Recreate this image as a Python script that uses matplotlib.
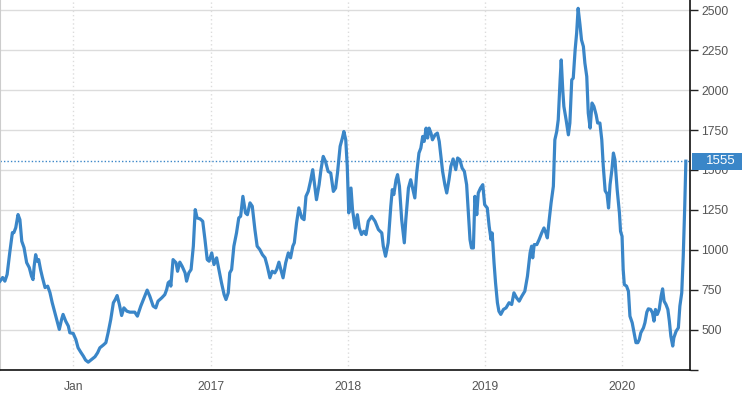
import matplotlib
matplotlib.use("Agg")
import matplotlib.pyplot as plt
import matplotlib.transforms as mtransforms
from matplotlib.patches import Rectangle
import pandas as pd

plt.rcParams['font.family'] = ['Liberation Sans', 'DejaVu Sans']

dates = [
    "2015-06-20", "2015-06-27", "2015-07-03", "2015-07-09", "2015-07-16", "2015-07-23", "2015-07-27",
    "2015-08-01", "2015-08-07", "2015-08-12", "2015-08-17", "2015-08-23", "2015-08-30", "2015-09-06",
    "2015-09-12", "2015-09-16", "2015-09-19", "2015-09-23", "2015-09-27", "2015-10-01", "2015-10-06",
    "2015-10-11", "2015-10-18", "2015-10-25", "2015-10-31", "2015-11-06", "2015-11-13", "2015-11-19",
    "2015-11-25", "2015-12-01", "2015-12-05", "2015-12-12", "2015-12-19", "2015-12-23",
    "2016-01-01", "2016-01-08", "2016-01-14", "2016-01-21", "2016-01-28", "2016-02-03", "2016-02-10",
    "2016-02-19", "2016-02-28", "2016-03-06", "2016-03-12", "2016-03-21", "2016-03-28", "2016-04-03",
    "2016-04-10", "2016-04-17", "2016-04-22", "2016-04-27", "2016-05-03", "2016-05-09", "2016-05-15",
    "2016-05-23", "2016-05-31", "2016-06-13", "2016-06-20", "2016-06-29", "2016-07-06", "2016-07-16",
    "2016-07-23", "2016-08-01", "2016-08-08", "2016-08-14", "2016-08-24", "2016-09-01", "2016-09-06",
    "2016-09-10", "2016-09-15", "2016-09-17", "2016-09-23", "2016-10-01", "2016-10-05", "2016-10-11",
    "2016-10-17", "2016-10-25", "2016-10-29", "2016-11-04", "2016-11-10", "2016-11-16", "2016-11-21",
    "2016-11-26", "2016-12-04", "2016-12-11", "2016-12-17", "2016-12-23", "2016-12-28",
    "2017-01-04", "2017-01-10", "2017-01-17", "2017-01-24", "2017-01-30", "2017-02-06", "2017-02-11",
    "2017-02-17", "2017-02-21", "2017-02-26", "2017-03-04", "2017-03-11", "2017-03-17", "2017-03-22",
    "2017-03-28", "2017-04-04", "2017-04-09", "2017-04-16", "2017-04-22", "2017-04-29", "2017-05-05",
    "2017-05-12", "2017-05-19", "2017-05-26", "2017-06-01", "2017-06-08", "2017-06-14", "2017-06-21",
    "2017-06-26", "2017-07-02", "2017-07-07", "2017-07-13", "2017-07-20", "2017-07-27", "2017-08-02",
    "2017-08-08", "2017-08-12", "2017-08-18", "2017-08-24", "2017-09-01", "2017-09-07", "2017-09-12",
    "2017-09-18", "2017-09-24", "2017-09-30", "2017-10-06", "2017-10-10", "2017-10-17", "2017-10-22",
    "2017-10-28", "2017-11-03", "2017-11-10", "2017-11-17", "2017-11-24", "2017-11-30", "2017-12-05",
    "2017-12-12", "2017-12-18", "2017-12-22", "2017-12-27", "2017-12-31",
    "2018-01-04", "2018-01-10", "2018-01-14", "2018-01-21", "2018-01-27", "2018-02-01", "2018-02-07",
    "2018-02-13", "2018-02-19", "2018-02-25", "2018-03-06", "2018-03-15", "2018-03-24", "2018-04-02",
    "2018-04-06", "2018-04-12", "2018-04-19", "2018-04-26", "2018-04-30", "2018-05-04", "2018-05-10",
    "2018-05-14", "2018-05-19", "2018-05-25", "2018-06-01", "2018-06-05", "2018-06-12", "2018-06-18",
    "2018-06-23", "2018-06-29", "2018-07-04", "2018-07-10", "2018-07-15", "2018-07-20", "2018-07-24",
    "2018-07-29", "2018-08-02", "2018-08-06", "2018-08-11", "2018-08-15", "2018-08-22", "2018-08-28",
    "2018-09-02", "2018-09-07", "2018-09-11", "2018-09-17", "2018-09-22", "2018-09-28", "2018-10-03",
    "2018-10-09", "2018-10-16", "2018-10-21", "2018-10-27", "2018-11-02", "2018-11-08", "2018-11-14",
    "2018-11-18", "2018-11-23", "2018-11-27", "2018-12-02", "2018-12-06", "2018-12-11", "2018-12-15",
    "2018-12-21", "2018-12-27",
    "2019-01-01", "2019-01-08", "2019-01-13", "2019-01-18", "2019-01-21", "2019-01-26", "2019-01-30",
    "2019-02-04", "2019-02-08", "2019-02-13", "2019-02-20", "2019-02-27", "2019-03-07", "2019-03-14",
    "2019-03-20", "2019-03-27", "2019-04-03", "2019-04-10", "2019-04-18", "2019-04-25", "2019-05-02",
    "2019-05-06", "2019-05-09", "2019-05-13", "2019-05-20", "2019-05-26", "2019-06-02", "2019-06-08",
    "2019-06-13", "2019-06-17", "2019-06-22", "2019-06-27", "2019-07-03", "2019-07-07", "2019-07-12",
    "2019-07-16", "2019-07-21", "2019-07-24", "2019-07-28", "2019-07-31", "2019-08-06", "2019-08-12",
    "2019-08-16", "2019-08-21", "2019-08-25", "2019-08-30", "2019-09-03", "2019-09-07", "2019-09-12",
    "2019-09-16", "2019-09-21", "2019-09-25", "2019-09-30", "2019-10-04", "2019-10-09", "2019-10-14",
    "2019-10-19", "2019-10-25", "2019-10-29", "2019-11-04", "2019-11-09", "2019-11-13", "2019-11-18",
    "2019-11-23", "2019-11-27", "2019-12-01", "2019-12-06", "2019-12-10", "2019-12-14", "2019-12-20",
    "2019-12-26", "2019-12-29",
    "2020-01-02", "2020-01-05", "2020-01-08", "2020-01-14", "2020-01-19", "2020-01-23", "2020-01-29",
    "2020-02-04", "2020-02-08", "2020-02-13", "2020-02-17", "2020-02-21", "2020-02-28", "2020-03-03",
    "2020-03-08", "2020-03-12", "2020-03-18", "2020-03-23", "2020-03-27", "2020-03-31", "2020-04-05",
    "2020-04-10", "2020-04-15", "2020-04-19", "2020-04-23", "2020-04-28", "2020-05-03", "2020-05-07",
    "2020-05-11", "2020-05-16", "2020-05-19", "2020-05-25", "2020-05-31", "2020-06-04", "2020-06-09",
    "2020-06-13", "2020-06-17", "2020-06-20",
]

values = [
    804, 827, 804, 846, 983, 1108, 1108,
    1139, 1221, 1189, 1054, 1014, 920, 889,
    835, 814, 898, 970, 929, 939, 877,
    827, 764, 773, 733, 670, 608, 554,
    502, 564, 596, 554, 523, 481,
    477, 439, 387, 360, 335, 310, 297,
    314, 331, 356, 387, 404, 419, 481,
    564, 669, 689, 714, 658, 589, 637,
    616, 610, 610, 585, 648, 689, 748,
    710, 648, 637, 679, 700, 720, 752,
    794, 804, 773, 939, 919, 866, 923,
    898, 856, 804, 856, 877, 1023, 1252,
    1200, 1194, 1179, 1064, 939, 929,
    981, 908, 950, 866, 794, 720, 689,
    731, 856, 877, 1023, 1106, 1200, 1210,
    1335, 1231, 1220, 1294, 1273, 1127, 1023,
    1002, 970, 950, 898, 825, 866, 856,
    877, 923, 877, 825, 919, 981, 950,
    1023, 1044, 1169, 1263, 1200, 1189, 1335,
    1366, 1429, 1502, 1387, 1314, 1408, 1502,
    1585, 1554, 1491, 1481, 1366, 1387, 1481,
    1648, 1700, 1741, 1689, 1523,
    1231, 1387, 1252, 1137, 1220, 1137, 1096,
    1116, 1096, 1179, 1210, 1179, 1127, 1106,
    1023, 960, 1044, 1273, 1377, 1346, 1439,
    1471, 1398, 1189, 1044, 1189, 1387, 1439,
    1387, 1325, 1481, 1606, 1637, 1710, 1679,
    1762, 1700, 1762, 1731, 1689, 1720, 1731,
    1679, 1575, 1491, 1408, 1356, 1439, 1523,
    1569, 1502, 1575, 1564, 1512, 1491, 1408,
    1252, 1064, 1012, 1012, 1335, 1220, 1356,
    1387, 1408,
    1283, 1262, 1148, 1064, 1106, 919, 794,
    669, 616, 596, 627, 637, 669, 658,
    731, 700, 679, 710, 741, 835, 981,
    1023, 950, 1033, 1033, 1064, 1106, 1137,
    1106, 1075, 1189, 1294, 1398, 1689, 1741,
    1814, 2064, 2189, 2002, 1898, 1814, 1720,
    1794, 2064, 2075, 2252, 2356, 2512, 2408,
    2314, 2273, 2169, 2085, 1856, 1762, 1919,
    1898, 1845, 1794, 1794, 1689, 1523, 1370,
    1350, 1262, 1408, 1502, 1606, 1564, 1377,
    1231, 1116,
    1085, 877, 783, 773, 741, 585, 544,
    471, 419, 419, 439, 481, 512, 544,
    610, 631, 627, 606, 554, 627, 596,
    627, 710, 756, 679, 658, 627, 554,
    460, 398, 450, 491, 512, 648, 731,
    960, 1273, 1555,
]

tick_dates = ["2016-01-01", "2017-01-01", "2018-01-01", "2019-01-01", "2020-01-01"]
tick_labels = ["Jan", "2017", "2018", "2019", "2020"]
y_ticks = [250, 500, 750, 1000, 1250, 1500, 1750, 2000, 2250, 2500]
y_tick_labels = ["", "500", "750", "1000", "1250", "1500", "1750", "2000", "2250", "2500"]

x = pd.to_datetime(dates)
line_color = "#3a86c8"
grid_color = "#dcdcdc"
text_color = "#555555"

fig = plt.figure(figsize=(7.42, 3.99), dpi=100)
ax = fig.add_axes([0.0, 370 / 399 * 0 + (1 - 370 / 399), 690 / 742, 370 / 399])

ax.plot(x, values, color=line_color, lw=2.3, solid_joinstyle="round", zorder=3)

last = values[-1]
ax.axhline(last, color=line_color, lw=1.0, ls=(0, (1, 1.5)), zorder=2)

ax.set_xlim(pd.Timestamp("2015-06-20"), pd.Timestamp("2020-07-01"))
ax.set_ylim(248, 2564)

ax.set_yticks(y_ticks)
ax.set_yticklabels(y_tick_labels)
ax.set_xticks(pd.to_datetime(tick_dates))
ax.set_xticklabels(tick_labels)

ax.yaxis.tick_right()
ax.tick_params(axis="y", which="both", length=6, width=1, color="#222222", pad=2,
               labelsize=8.7, labelcolor=text_color, left=False, right=True)
ax.tick_params(axis="x", length=0, pad=8, labelsize=8.7, labelcolor=text_color)

ax.grid(axis="y", color=grid_color, lw=1.0, ls="-", zorder=0)
ax.grid(axis="x", color=grid_color, lw=1.0, ls=(0, (1, 2)), zorder=0)

for side in ["top"]:
    ax.spines[side].set_visible(False)
ax.spines["left"].set_color("#cccccc")
ax.spines["right"].set_color("#111111")
ax.spines["bottom"].set_color("#111111")
ax.spines["right"].set_linewidth(1.2)
ax.spines["bottom"].set_linewidth(1.2)

trans = mtransforms.blended_transform_factory(ax.transAxes, ax.transData)
box_h = 17 / 370 * (2564 - 248)
rect = Rectangle((1.003, last - box_h / 2), 0.08, box_h, transform=trans,
                 facecolor=line_color, edgecolor="none", clip_on=False, zorder=10)
ax.add_patch(rect)
ax.text(1.044, last, f"{last}", transform=trans, ha="center", va="center",
        color="white", fontsize=9.5, zorder=11, clip_on=False)

fig.savefig("out.png", dpi=100)
